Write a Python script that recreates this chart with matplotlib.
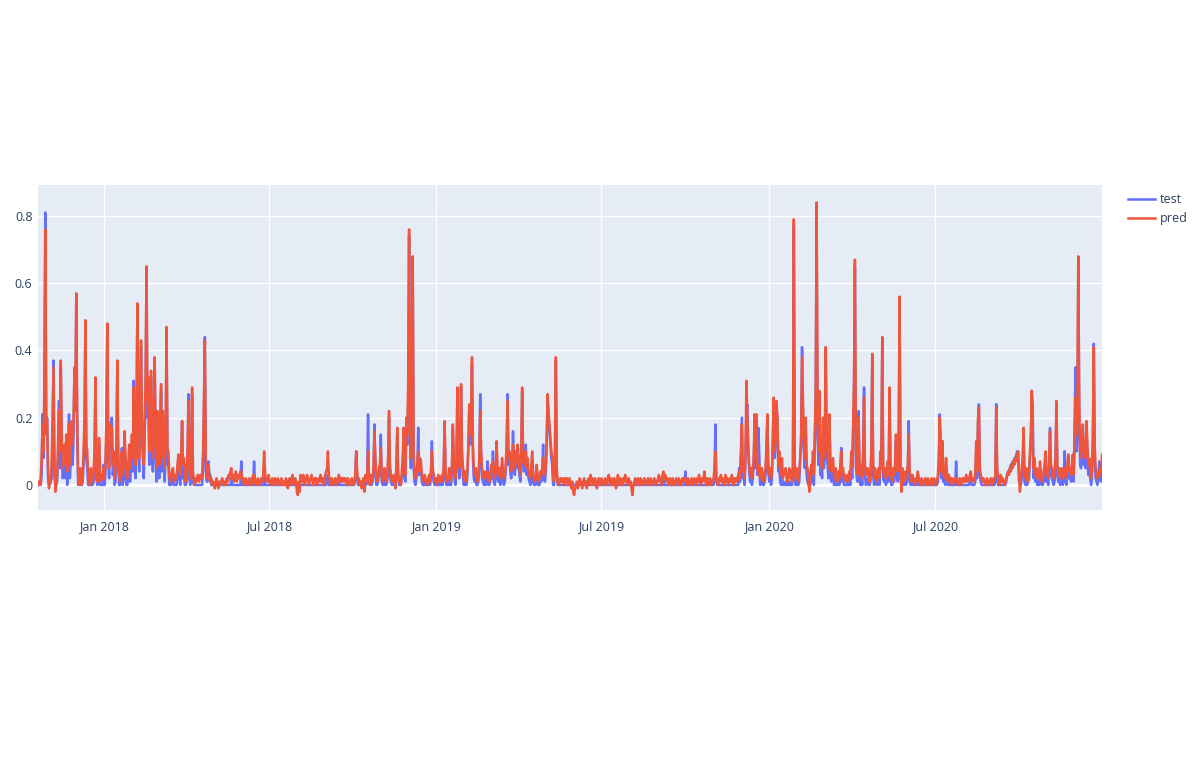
import numpy as np
import pandas as pd
import matplotlib
matplotlib.use("Agg")
import matplotlib.pyplot as plt
import matplotlib.dates as mdates

plt.rcParams['font.family'] = ['Open Sans', 'DejaVu Sans']

# daily series, first day below; values in hundredths
start_date = "2017-10-21"

pred_q0 = [0, 1, 0, 2, 8, 18, 10, 30, 76, 20,
           19, 5, -1, 2, 1, 6, 20, 35, 8, -2,
           0, 3, 12, 22, 10, 37, 15, 5, 8, 12,
           6, 15, 4, 10, 18, 6, 13, 19, 12, 20,
           35, 28, 57, 20, 3, 0, 5, 1, 0, 4,
           10, 20, 49, 12, 10, 3, 2, 0, 5, 2,
           1, 4, 10, 32, 6, 1, 4, 14, 4, 1,
           3, 2, 5, 2, 7, 20, 48, 12, 5, 18,
           15, 17, 6, 10, 2, 5, 12, 37, 10, 3]
pred_q1 = [1, 4, 10, 3, 6, 16, 8, 3, 2, 6,
           12, 5, 10, 15, 8, 29, 10, 6, 20, 54,
           15, 8, 25, 43, 20, 12, 6, 18, 30, 65,
           25, 32, 10, 20, 34, 15, 8, 22, 38, 12,
           5, 22, 15, 6, 20, 30, 8, 22, 12, 5,
           15, 47, 10, 10, 3, 1, 2, 4, 5, 2,
           1, 3, 2, 6, 9, 6, 3, 8, 19, 6,
           8, 3, 1, 4, 10, 25, 5, 2, 8, 29,
           4, 1, 0, 2, 1, 3, 2, 1, 3, 2]
pred_q2 = [2, 10, 25, 43, 8, 3, 2, 6, 2, 1,
           2, 0, 1, 0, -1, 1, 2, 0, -1, 1,
           0, 1, 2, 1, 0, 1, 0, 2, 1, 3,
           2, 4, 5, 2, 3, 1, 2, 4, 1, 2,
           3, 2, 4, 4, 1, 2, 0, 1, 2, 1,
           0, 1, 2, 1, 0, 2, 3, 3, 1, 0,
           1, 2, 1, 0, 1, 2, 1, 3, 10, 4,
           1, 2, 1, 3, 1, 0, 1, 2, 0, 1,
           2, 1, 0, 2, 1, 0, 1, 2, 1, 0]
pred_q3 = [1, 0, 2, 1, -1, 1, 2, 0, 1, 3,
           1, 0, 2, 1, -2, -3, 1, -2, 3, 1,
           2, 3, 0, 2, 1, 3, 2, 0, 1, 2,
           3, 1, 0, 2, 1, 2, 0, 1, 2, 1,
           3, 1, 2, 0, 1, 3, 4, 5, 10, 3,
           1, 0, 2, 1, 0, 1, 2, 1, 0, 2,
           3, 2, 1, 2, 1, 2, 1, 2, 1, 0,
           2, 1, 0, 1, 2, 1, 0, 1, 3, 10,
           4, 1, 2, 0, 1, -1, 1, 2, -2, 3]
pred_q4 = [1, 2, 10, 2, 0, 3, 1, 2, 5, 16,
           8, 2, 1, 3, 5, 6, 11, 3, 1, 2,
           5, 2, 1, 3, 8, 22, 6, 3, 1, 2,
           3, 1, -1, 5, 17, 4, 1, 2, 0, 4,
           8, 17, 4, 3, 20, 15, 30, 76, 25, 8,
           40, 68, 10, 3, 2, 4, 6, 10, 4, 8,
           7, 3, 2, 1, 3, 2, 1, 0, 2, 3,
           1, 4, 10, 5, 3, 1, 2, 0, 1, 3,
           2, 1, 2, 3, 1, 6, 19, 4, 1, 2]
pred_q5 = [2, 5, 1, 2, 6, 18, 8, 3, 2, 8,
           29, 12, 5, 10, 30, 10, 6, 2, 4, 1,
           2, 5, 12, 24, 15, 20, 38, 12, 5, 3,
           5, 2, 1, 3, 8, 22, 10, 5, 3, 2,
           4, 2, 3, 4, 2, 1, 3, 6, 4, 7,
           3, 2, 4, 13, 5, 3, 5, 2, 3, 8,
           4, 2, 3, 6, 12, 25, 8, 10, 6, 4,
           7, 12, 8, 5, 10, 7, 12, 9, 5, 3,
           8, 29, 10, 6, 9, 10, 5, 8, 4, 3]
pred_q6 = [2, 5, 10, 3, 2, 1, 3, 6, 2, 1,
           2, 4, 3, 5, 8, 4, 3, 6, 15, 27,
           22, 18, 14, 10, 8, 2, 1, 10, 38, 5,
           1, 0, 1, 2, 1, 2, 1, 0, 2, 1,
           2, 0, 1, 2, 0, -1, 1, -2, -3, -1,
           0, 1, -1, 0, 2, 1, 0, -1, 1, 2,
           0, 1, -1, 1, 2, 0, 3, 1, 2, 0,
           1, 2, 0, -1, 1, 2, 1, 0, 2, 1,
           0, 1, 2, 1, 0, 2, 3, 1, 0, 2]
pred_q7 = [1, 0, 2, 1, -1, 1, 3, 1, 0, 2,
           1, 0, 2, 1, 3, 2, 0, 1, 2, 0,
           1, -1, -3, 0, 1, 2, 0, 1, 2, 1,
           0, 2, 1, 0, 1, 2, 1, 0, 1, 2,
           1, 0, 2, 1, 0, 1, 2, 1, 0, 1,
           2, 3, 1, 2, 0, 3, 4, 2, 3, 1,
           2, 1, 0, 2, 1, 0, 2, 1, 0, 1,
           2, 1, 0, 2, 1, 0, 1, 2, 1, 2,
           2, 1, 0, 2, 1, 0, 1, 2, 0, 1]
pred_q8 = [2, 1, 0, 2, 1, 3, 1, 0, 2, 1,
           2, 4, 1, 0, 2, 1, 0, 2, 1, 0,
           1, 2, 5, 10, 2, 1, 0, 2, 1, 3,
           1, 2, 0, 1, 3, 1, 2, 0, 1, 2,
           1, 3, 1, 0, 2, 1, 2, 1, 3, 4,
           2, 8, 18, 4, 5, 2, 10, 31, 20, 12,
           6, 3, 5, 2, 4, 8, 21, 8, 21, 5,
           3, 6, 2, 4, 5, 2, 1, 3, 5, 12,
           21, 6, 3, 5, 2, 4, 15, 26, 10, 15]
pred_q9 = [25, 20, 6, 10, 4, 3, 8, 2, 4, 3,
           5, 2, 1, 3, 5, 2, 4, 1, 5, 79,
           6, 2, 5, 3, 1, 4, 8, 15, 38, 25,
           12, 8, 20, 6, 5, 2, -2, 3, 6, 4,
           10, 3, 15, 28, 84, 20, 10, 28, 6, 10,
           5, 20, 8, 15, 41, 12, 10, 5, 21, 8,
           4, 6, 8, 3, 2, 5, 3, 1, 4, 2,
           6, 10, 4, 5, 2, 3, 1, 2, 3, 1,
           4, 2, 10, 5, 18, 30, 67, 10, 5, 3]
pred_q10 = [20, 5, 3, 6, 2, 10, 26, 6, 3, 4,
            5, 2, 1, 3, 10, 39, 6, 2, 5, 3,
            1, 4, 5, 2, 10, 8, 44, 5, 3, 5,
            2, 4, 7, 3, 29, 6, 2, 1, 5, 3,
            6, 15, 8, 4, 12, 56, 5, -2, 5, 2,
            1, 4, 2, 3, 6, 15, 4, 2, 1, 3,
            2, 1, 0, 2, 1, 4, 2, 1, 0, 2,
            1, 0, 1, 2, 1, 0, 2, 1, 0, 1,
            2, 0, 1, 2, 1, 0, 1, 3, 8, 20]
pred_q11 = [12, 4, 13, 3, 5, 2, 8, 3, 1, 3,
            2, 1, 2, 0, 1, 2, 1, 2, 1, 0,
            1, 2, 1, 0, 2, 1, 2, 1, 3, 1,
            2, 1, 3, 4, 2, 1, 2, 1, 3, 13,
            4, 20, 23, 5, 3, 2, 1, 2, 1, 0,
            1, 2, 1, 0, 1, 2, 1, 0, 2, 1,
            3, 23, 5, 2, 1, 0, 3, 1, 2, 1,
            0, 1, 2, 3, 4, 3, 5, 4, 6, 5,
            7, 6, 8, 7, 9, 10, 3, -2, 2, 5]
pred_q12 = [8, 17, 4, 2, 5, 1, 3, 4, 10, 15,
            28, 12, 5, 8, 3, 5, 2, 4, 2, 7,
            3, 1, 2, 4, 6, 10, 3, 4, 2, 8,
            16, 6, 5, 3, 2, 4, 8, 25, 6, 3,
            5, 2, 3, 5, 2, 4, 5, 3, 2, 6,
            9, 4, 5, 3, 6, 9, 3, 12, 26, 15,
            20, 68, 25, 10, 8, 12, 18, 10, 12, 8,
            19, 12, 6, 8, 4, 2, 5, 15, 41, 12,
            5, 3, 2, 4, 3, 5, 3, 9]

test_q0 = [0, 0, 1, 0, 3, 21, 8, 25, 81, 15,
           20, 2, 0, 0, 1, 2, 15, 37, 3, 0,
           0, 1, 8, 25, 5, 35, 10, 2, 3, 8,
           2, 12, 0, 5, 21, 2, 8, 17, 6, 15,
           33, 22, 55, 15, 0, 0, 5, 0, 0, 1,
           6, 15, 47, 8, 5, 0, 0, 0, 2, 0,
           0, 1, 5, 30, 2, 0, 1, 12, 0, 0,
           0, 0, 6, 0, 3, 15, 46, 8, 2, 15,
           19, 20, 3, 6, 0, 1, 8, 35, 6, 0]
test_q1 = [0, 1, 11, 0, 2, 14, 4, 0, 0, 3,
           8, 1, 6, 12, 4, 31, 6, 2, 15, 52,
           10, 4, 20, 41, 15, 8, 2, 14, 26, 63,
           20, 30, 6, 16, 32, 10, 4, 18, 36, 8,
           1, 20, 10, 2, 16, 28, 4, 18, 8, 1,
           10, 45, 6, 6, 0, 0, 0, 1, 2, 0,
           0, 0, 0, 3, 9, 2, 0, 4, 19, 2,
           4, 0, 0, 1, 6, 27, 2, 0, 4, 27,
           1, 0, 0, 0, 0, 0, 0, 0, 0, 0]
test_q2 = [0, 5, 22, 44, 4, 1, 1, 7, 3, 3,
           0, 0, 0, 0, 0, 0, 0, 0, 0, 0,
           0, 0, 0, 0, 0, 0, 0, 0, 0, 0,
           0, 0, 2, 0, 0, 0, 0, 0, 0, 0,
           0, 0, 0, 7, 0, 0, 0, 0, 0, 0,
           0, 0, 0, 0, 0, 0, 0, 7, 0, 0,
           0, 0, 0, 0, 0, 0, 0, 0, 5, 0,
           0, 0, 0, 0, 0, 0, 0, 0, 0, 0,
           0, 0, 0, 0, 0, 0, 0, 0, 0, 0]
test_q3 = [0, 0, 0, 0, 0, 0, 0, 0, 0, 0,
           0, 0, 0, 0, 0, 0, 0, 0, 0, 0,
           0, 0, 0, 0, 0, 0, 0, 0, 0, 0,
           0, 0, 0, 0, 0, 0, 0, 0, 0, 0,
           0, 0, 0, 0, 0, 0, 0, 2, 3, 0,
           0, 0, 0, 0, 0, 0, 0, 0, 0, 0,
           1, 0, 0, 0, 0, 0, 0, 0, 0, 0,
           0, 0, 0, 0, 0, 0, 0, 0, 3, 10,
           2, 0, 0, 0, 0, 0, 0, 0, 0, 0]
test_q4 = [0, 1, 21, 1, 0, 1, 0, 1, 3, 18,
           6, 0, 0, 1, 3, 4, 15, 1, 0, 0,
           3, 0, 0, 1, 5, 20, 3, 1, 0, 0,
           1, 0, 0, 3, 15, 2, 0, 0, 0, 2,
           5, 15, 2, 1, 18, 12, 25, 74, 20, 5,
           35, 66, 5, 1, 0, 2, 4, 17, 3, 6,
           5, 1, 0, 0, 1, 0, 0, 0, 0, 1,
           0, 2, 13, 3, 1, 0, 0, 0, 0, 1,
           0, 0, 0, 1, 0, 4, 17, 2, 0, 0]
test_q5 = [0, 3, 0, 0, 4, 17, 5, 1, 0, 6,
           28, 9, 2, 8, 29, 7, 3, 0, 2, 0,
           0, 3, 10, 22, 12, 17, 36, 8, 2, 1,
           2, 0, 0, 1, 6, 27, 8, 2, 1, 0,
           2, 0, 1, 7, 0, 0, 1, 4, 2, 10,
           1, 0, 2, 11, 3, 1, 3, 0, 1, 6,
           2, 0, 1, 4, 10, 27, 6, 8, 4, 2,
           5, 16, 6, 3, 8, 5, 10, 7, 3, 1,
           6, 28, 8, 4, 7, 12, 3, 6, 2, 1]
test_q6 = [0, 3, 8, 1, 0, 0, 1, 4, 0, 0,
           0, 2, 1, 3, 12, 2, 1, 4, 13, 25,
           20, 16, 12, 8, 6, 0, 0, 8, 37, 3,
           0, 0, 0, 0, 0, 0, 0, 0, 0, 0,
           0, 0, 0, 0, 0, 0, 0, 0, 0, 0,
           0, 0, 0, 0, 0, 0, 0, 0, 0, 0,
           0, 0, 0, 0, 0, 0, 0, 0, 0, 0,
           0, 0, 0, 0, 0, 0, 0, 0, 0, 0,
           0, 0, 0, 0, 0, 0, 0, 0, 0, 0]
test_q7 = [0, 0, 0, 0, 0, 0, 0, 0, 0, 0,
           0, 0, 0, 0, 0, 0, 0, 0, 0, 0,
           0, 0, 0, 0, 0, 0, 0, 0, 0, 0,
           0, 0, 0, 0, 0, 0, 0, 0, 0, 0,
           0, 0, 0, 0, 0, 0, 0, 0, 0, 0,
           0, 0, 0, 0, 0, 0, 2, 0, 0, 0,
           0, 0, 0, 0, 0, 0, 0, 0, 0, 0,
           0, 0, 0, 0, 0, 0, 0, 0, 0, 0,
           4, 0, 0, 0, 0, 0, 0, 0, 0, 0]
test_q8 = [0, 0, 0, 0, 0, 0, 0, 0, 0, 0,
           0, 0, 0, 0, 0, 0, 0, 0, 0, 0,
           0, 0, 3, 18, 1, 0, 0, 0, 0, 0,
           0, 0, 0, 0, 0, 0, 0, 0, 0, 0,
           0, 0, 0, 0, 0, 0, 0, 0, 0, 5,
           1, 10, 20, 2, 3, 0, 8, 22, 24, 10,
           4, 1, 3, 0, 2, 6, 18, 5, 20, 3,
           17, 10, 0, 2, 3, 0, 0, 1, 3, 10,
           20, 4, 1, 3, 0, 2, 14, 25, 8, 13]
test_q9 = [24, 18, 4, 5, 1, 0, 3, 0, 0, 0,
           1, 0, 0, 0, 1, 0, 0, 0, 2, 77,
           3, 0, 1, 0, 0, 1, 8, 12, 41, 22,
           10, 5, 18, 3, 1, 0, 0, 0, 2, 1,
           6, 0, 12, 25, 82, 15, 6, 26, 3, 6,
           2, 18, 5, 12, 40, 8, 6, 2, 20, 5,
           1, 2, 5, 0, 0, 2, 0, 0, 1, 0,
           3, 11, 1, 2, 0, 0, 0, 0, 1, 0,
           1, 0, 8, 2, 15, 28, 65, 6, 2, 1]
test_q10 = [22, 2, 0, 3, 0, 8, 29, 3, 0, 1,
            2, 0, 0, 1, 8, 37, 3, 0, 2, 1,
            0, 1, 4, 0, 8, 5, 42, 2, 1, 2,
            0, 1, 5, 1, 27, 3, 0, 0, 2, 1,
            3, 13, 5, 1, 10, 54, 2, 0, 2, 0,
            0, 1, 0, 1, 4, 19, 1, 0, 0, 1,
            0, 0, 0, 0, 0, 3, 0, 0, 0, 0,
            0, 0, 0, 0, 0, 0, 0, 0, 0, 0,
            0, 0, 0, 0, 0, 0, 0, 1, 5, 21]
test_q11 = [13, 2, 13, 1, 2, 0, 5, 1, 0, 1,
            0, 0, 0, 0, 0, 0, 0, 7, 0, 0,
            0, 0, 0, 0, 0, 0, 0, 0, 0, 0,
            0, 0, 1, 2, 0, 0, 0, 0, 1, 10,
            2, 18, 24, 3, 1, 0, 0, 0, 0, 0,
            0, 0, 0, 0, 0, 0, 0, 0, 0, 0,
            1, 24, 3, 0, 0, 0, 0, 0, 0, 0,
            0, 0, 1, 3, 4, 4, 5, 6, 6, 7,
            7, 8, 8, 9, 10, 10, 1, 0, 0, 2]
test_q12 = [5, 15, 1, 0, 2, 0, 1, 2, 8, 14,
            28, 24, 2, 6, 1, 2, 0, 1, 0, 5,
            1, 0, 0, 1, 3, 8, 1, 2, 0, 5,
            17, 3, 2, 1, 0, 1, 6, 22, 3, 1,
            2, 0, 1, 2, 0, 2, 10, 1, 0, 3,
            9, 2, 3, 1, 3, 9, 1, 20, 35, 10,
            15, 66, 20, 6, 5, 8, 16, 6, 8, 5,
            17, 8, 3, 5, 2, 0, 2, 12, 42, 8,
            2, 1, 0, 2, 7, 2, 1, 6]

pred = np.array(pred_q0 + pred_q1 + pred_q2 + pred_q3 + pred_q4 + pred_q5 + pred_q6
                + pred_q7 + pred_q8 + pred_q9 + pred_q10 + pred_q11 + pred_q12) / 100
test = np.array(test_q0 + test_q1 + test_q2 + test_q3 + test_q4 + test_q5 + test_q6
                + test_q7 + test_q8 + test_q9 + test_q10 + test_q11 + test_q12) / 100
n = min(len(pred), len(test))
dates = pd.date_range(start_date, periods=n, freq="D")

fig = plt.figure(figsize=(12, 7.68), dpi=100)
ax = fig.add_axes([38 / 1200, 1 - 510 / 768, (1102 - 38) / 1200, (510 - 185) / 768])
ax.set_facecolor("#E5ECF6")

ax.plot(dates, test[:n], color="#636EFA", lw=1.8, label="test", zorder=3)
ax.plot(dates, pred[:n], color="#EF553B", lw=1.8, label="pred", zorder=4)

ax.set_xlim(dates[0], dates[-1])
ax.set_ylim(-0.0744, 0.892)
ax.set_yticks([0, 0.2, 0.4, 0.6, 0.8])
ax.set_yticklabels(["0", "0.2", "0.4", "0.6", "0.8"])
ax.xaxis.set_major_locator(mdates.MonthLocator(bymonth=[1, 7]))
ax.xaxis.set_major_formatter(mdates.DateFormatter("%b %Y"))

ax.grid(color="white", lw=1)
ax.set_axisbelow(True)
ax.axhline(0, color="white", lw=2, zorder=1.5)
for s in ax.spines.values():
    s.set_visible(False)
ax.tick_params(axis="both", length=0, labelsize=9, colors="#2a3f5f")
ax.tick_params(axis="y", pad=4)
ax.tick_params(axis="x", pad=7)

fig.legend(loc="upper left", bbox_to_anchor=(1117 / 1200, 1 - 182 / 768), frameon=False,
           fontsize=9, handlelength=2.16, handletextpad=0.4, labelspacing=0.45,
           labelcolor="#2a3f5f")

fig.savefig("out.png", dpi=100, facecolor="white")
